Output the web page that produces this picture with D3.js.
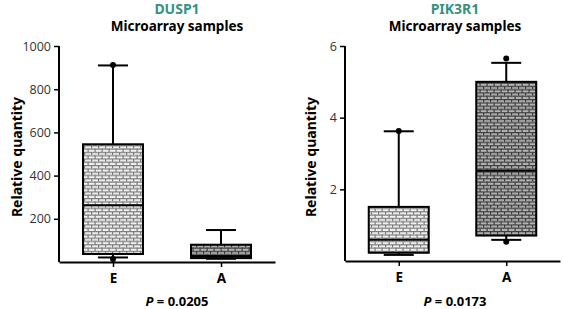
<!DOCTYPE html>
<html>
<head>
<meta charset="utf-8">
<script src="https://cdn.jsdelivr.net/npm/d3@7"></script>
<style>
  body { margin: 0; background: #fff; }
  svg { display: block; font-family: "Open Sans", sans-serif; }
  .bold { font-family: "Noto Sans", "Open Sans", sans-serif; font-weight: 700; }
</style>
</head>
<body>
<svg id="chart" width="563" height="309"></svg>
<script>
// groups on the x axis
const groups = ['E', 'A'];

// DUSP1 box statistics (E, A)
const duspMin = [21, 15];
const duspQ1 = [37, 18];
const duspMedian = [263, 28];
const duspQ3 = [545, 80];
const duspMax = [910, 148];
const duspOutliers = [['E', 912], ['E', 14]];
const duspTicks = [200, 400, 600, 800, 1000];

// PIK3R1 box statistics (E, A)
const pikMin = [0.17, 0.59];
const pikQ1 = [0.23, 0.71];
const pikMedian = [0.59, 2.52];
const pikQ3 = [1.51, 5.0];
const pikMax = [3.62, 5.53];
const pikOutliers = [['E', 3.63], ['A', 5.65], ['A', 0.54]];
const pikTicks = [2, 4, 6];

const svg = d3.select('#chart');
const defs = svg.append('defs');

// brick hatch used for the boxes
function brick(id, bg, mortar) {
    const p = defs.append('pattern')
        .attr('id', id)
        .attr('patternUnits', 'userSpaceOnUse')
        .attr('width', 7)
        .attr('height', 6.6);
    p.append('rect').attr('width', 7).attr('height', 6.6).attr('fill', bg);
    p.append('rect').attr('y', 0).attr('width', 7).attr('height', 1.2).attr('fill', mortar);
    p.append('rect').attr('y', 3.3).attr('width', 7).attr('height', 1.2).attr('fill', mortar);
    p.append('rect').attr('x', 0).attr('y', 0).attr('width', 1.2).attr('height', 3.3).attr('fill', mortar);
    p.append('rect').attr('x', 3.5).attr('y', 3.3).attr('width', 1.2).attr('height', 3.3).attr('fill', mortar);
}
brick('brickE', '#f2f2f2', '#7a7a7a');
brick('brickA', '#b4b4b4', '#3c3c3c');

const panels = [
    { gene: 'DUSP1', x0: 59, x1: 275, yBottom: 262, max: 1000, ticks: duspTicks,
      min: duspMin, q1: duspQ1, med: duspMedian, q3: duspQ3, hi: duspMax,
      outliers: duspOutliers, p: '0.0205', labelX: 22, centerX: 177 },
    { gene: 'PIK3R1', x0: 345, x1: 560, yBottom: 261, max: 6, ticks: pikTicks,
      min: pikMin, q1: pikQ1, med: pikMedian, q3: pikQ3, hi: pikMax,
      outliers: pikOutliers, p: '0.0173', labelX: 316, centerX: 455 }
];

const boxW = 60;
const capW = 30;

panels.forEach(cfg => {
    const g = svg.append('g');

    const x = d3.scalePoint().domain(groups).range([cfg.x0, cfg.x1]).padding(0.5);
    const y = d3.scaleLinear().domain([0, cfg.max]).range([cfg.yBottom, 46]);

    // titles
    g.append('text').attr('class', 'bold')
        .attr('x', cfg.centerX).attr('y', 14)
        .attr('text-anchor', 'middle')
        .attr('font-size', 14)
        .attr('fill', '#34927f')
        .text(cfg.gene);
    g.append('text').attr('class', 'bold')
        .attr('x', cfg.centerX).attr('y', 31)
        .attr('text-anchor', 'middle')
        .attr('font-size', 13.5)
        .attr('fill', '#000')
        .text('Microarray samples');

    // y axis
    const yAxis = g.append('g')
        .attr('transform', `translate(${cfg.x0},0)`)
        .call(d3.axisLeft(y).tickValues(cfg.ticks).tickFormat(d3.format('d'))
            .tickSize(5).tickSizeOuter(0).tickPadding(3));
    yAxis.select('.domain').attr('stroke-width', 2).attr('d', `M0,${cfg.yBottom}V46`);
    yAxis.selectAll('.tick line').attr('stroke-width', 1.5);
    yAxis.selectAll('.tick text')
        .attr('font-size', 12.5).attr('font-family', '"Open Sans", sans-serif').attr('fill', '#333');

    // x axis
    const xAxis = g.append('g')
        .attr('transform', `translate(0,${cfg.yBottom})`)
        .call(d3.axisBottom(x).tickSize(5).tickSizeOuter(0).tickPadding(6));
    xAxis.select('.domain').attr('stroke-width', 2);
    xAxis.selectAll('.tick line').attr('stroke-width', 1.5);
    xAxis.selectAll('.tick text')
        .attr('class', 'bold')
        .attr('font-size', 13.5)
        .attr('font-family', null).attr('fill', '#000');

    // y label
    g.append('text').attr('class', 'bold')
        .attr('transform', `translate(${cfg.labelX},157) rotate(-90)`)
        .attr('text-anchor', 'middle')
        .attr('font-size', 14)
        .attr('fill', '#000')
        .text('Relative quantity');

    // P value
    const pt = g.append('text').attr('class', 'bold')
        .attr('x', cfg.centerX).attr('y', 306)
        .attr('text-anchor', 'middle')
        .attr('font-size', 13)
        .attr('fill', '#000');
    pt.append('tspan').attr('font-style', 'italic').text('P');
    pt.append('tspan').text(' = ' + cfg.p);

    // boxes
    const data = groups.map((k, i) => ({
        key: k, min: cfg.min[i], q1: cfg.q1[i], med: cfg.med[i], q3: cfg.q3[i], max: cfg.hi[i]
    }));

    const box = g.selectAll('g.box').data(data).enter()
        .append('g').attr('class', 'box');

    // whiskers
    box.append('line')
        .attr('x1', d => x(d.key)).attr('x2', d => x(d.key))
        .attr('y1', d => y(d.max)).attr('y2', d => y(d.min))
        .attr('stroke', '#000').attr('stroke-width', 2);
    box.append('line')
        .attr('x1', d => x(d.key) - capW / 2).attr('x2', d => x(d.key) + capW / 2)
        .attr('y1', d => y(d.max)).attr('y2', d => y(d.max))
        .attr('stroke', '#000').attr('stroke-width', 2);
    box.append('line')
        .attr('x1', d => x(d.key) - capW / 2).attr('x2', d => x(d.key) + capW / 2)
        .attr('y1', d => y(d.min)).attr('y2', d => y(d.min))
        .attr('stroke', '#000').attr('stroke-width', 2);

    box.append('rect')
        .attr('x', d => x(d.key) - boxW / 2)
        .attr('y', d => y(d.q3))
        .attr('width', boxW)
        .attr('height', d => y(d.q1) - y(d.q3))
        .attr('fill', d => d.key === 'E' ? 'url(#brickE)' : 'url(#brickA)')
        .attr('stroke', '#000').attr('stroke-width', 2);

    box.append('line')
        .attr('x1', d => x(d.key) - boxW / 2).attr('x2', d => x(d.key) + boxW / 2)
        .attr('y1', d => y(d.med)).attr('y2', d => y(d.med))
        .attr('stroke', '#000').attr('stroke-width', 2);

    // outlier dots
    g.selectAll('circle.out').data(cfg.outliers).enter()
        .append('circle').attr('class', 'out')
        .attr('cx', d => x(d[0])).attr('cy', d => y(d[1]))
        .attr('r', 3).attr('fill', '#000');
});
</script>
</body>
</html>
